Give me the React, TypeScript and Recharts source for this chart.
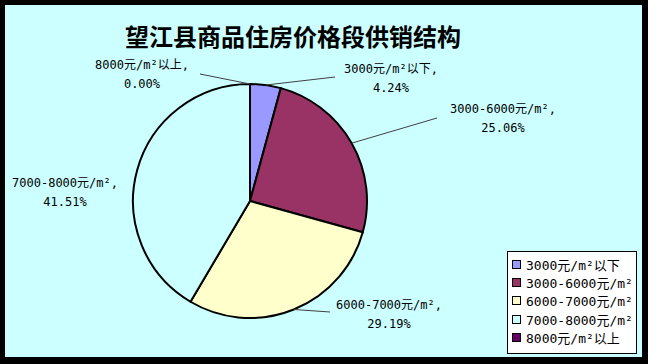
import React from 'react'
import { PieChart, Pie, Cell, Legend } from 'recharts'

// 望江县商品住房价格段供销结构
const categories = ['3000元/m²以下', '3000-6000元/m²', '6000-7000元/m²', '7000-8000元/m²', '8000元/m²以上']
const shares = [4.24, 25.06, 29.19, 41.51, 0.0]
const colors = ['#9999FF', '#993366', '#FFFFCC', '#CCFFFF', '#660066']

// label placement relative to pie centre: leader end (lx, ly), text centre (tx, ty)
const labelPos = [
  { lx: 85, ly: -124, tx: 141, ty: -132, line: true },
  { lx: 187, ly: -83, tx: 253, ty: -92, line: true },
  { lx: 80, ly: 111, tx: 139, ty: 104, line: true },
  { lx: 0, ly: 0, tx: -185, ty: -18, line: false },
  { lx: -50, ly: -127, tx: -108, ty: -136, line: true },
]

const data = categories.map((name, i) => ({ name, value: shares[i] }))

const LABEL_FONT = '"DejaVu Sans Mono", "Noto Sans CJK SC", monospace'
const RADIAN = Math.PI / 180

function renderLabel(props: any) {
  const { cx, cy, midAngle, outerRadius, index, name, value } = props
  const p = labelPos[index]
  const sx = cx + outerRadius * Math.cos(-midAngle * RADIAN)
  const sy = cy + outerRadius * Math.sin(-midAngle * RADIAN)
  return (
    <g key={`lbl-${index}`}>
      {p.line && (
        <polyline
          points={`${sx},${sy} ${cx + p.lx},${cy + p.ly}`}
          stroke="#404040"
          strokeWidth={1}
          fill="none"
        />
      )}
      <text
        x={cx + p.tx}
        y={cy + p.ty}
        textAnchor="middle"
        dominantBaseline="central"
        fontSize={12}
        fontFamily={LABEL_FONT}
        fill="#000"
      >
        <tspan x={cx + p.tx} dy={0}>{name},</tspan>
        <tspan x={cx + p.tx} dy={18.5}>{Number(value).toFixed(2)}%</tspan>
      </text>
    </g>
  )
}

function LegendBox() {
  return (
    <div
      style={{
        width: 130,
        height: 103,
        boxSizing: 'border-box',
        border: '1px solid #000',
        background: '#fff',
        padding: '3px 0 0 4px',
        fontFamily: LABEL_FONT,
        fontSize: 13,
      }}
    >
      {categories.map((name, i) => (
        <div key={i} style={{ display: 'flex', alignItems: 'center', height: 18.4, whiteSpace: 'nowrap' }}>
          <span
            style={{
              display: 'inline-block',
              width: 9,
              height: 9,
              boxSizing: 'border-box',
              border: '1px solid #000',
              background: colors[i],
              marginRight: 5,
            }}
          />
          <span style={{ color: '#000' }}>{name}</span>
        </div>
      ))}
    </div>
  )
}

export default function App() {
  return (
    <div
      style={{
        position: 'absolute',
        left: 0,
        top: 0,
        width: 648,
        height: 364,
        background: '#000',
      }}
    >
      <div
        style={{
          position: 'absolute',
          left: 5,
          top: 5,
          width: 637,
          height: 352,
          background: '#CCFFFF',
        }}
      >
        <div
          style={{
            position: 'absolute',
            left: 0,
            top: 16,
            width: 576,
            textAlign: 'center',
            fontFamily: '"Noto Sans CJK SC", sans-serif',
            fontSize: 24,
            fontWeight: 700,
            lineHeight: '30px',
            color: '#000',
          }}
        >
          望江县商品住房价格段供销结构
        </div>
        <PieChart width={637} height={352} margin={{ top: 0, right: 0, bottom: 0, left: 0 }}>
          <Pie
            data={data}
            dataKey="value"
            nameKey="name"
            cx={245}
            cy={196}
            outerRadius={117}
            startAngle={90}
            endAngle={-270}
            stroke="#000"
            strokeWidth={2}
            labelLine={false}
            label={renderLabel}
            legendType="square"
            isAnimationActive={false}
          >
            {data.map((_, i) => (
              <Cell key={i} fill={colors[i]} />
            ))}
          </Pie>
          <Legend
            content={<LegendBox />}
            wrapperStyle={{ position: 'absolute', left: 502, top: 246, width: 130, height: 103 }}
          />
        </PieChart>
      </div>
    </div>
  )
}
